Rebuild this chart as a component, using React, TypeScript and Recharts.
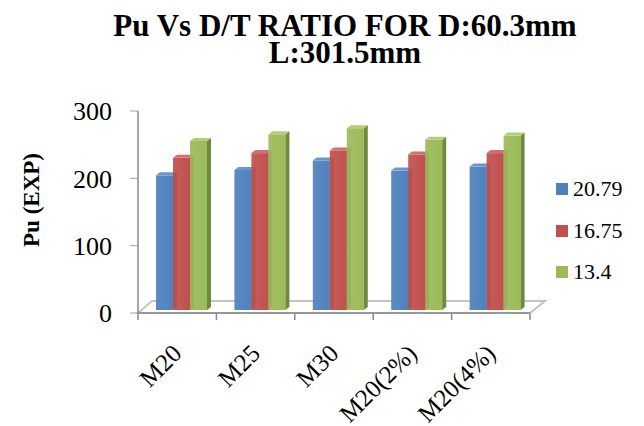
import { BarChart, Bar, XAxis, YAxis } from 'recharts';

const categories = ['M20', 'M25', 'M30', 'M20(2%)', 'M20(4%)'];
const seriesNames = ['20.79', '16.75', '13.4'];
const puDt2079 = [200, 208, 222, 207, 213];
const puDt1675 = [226, 233, 237, 231, 233];
const puDt134 = [251, 261, 270, 253, 259];
const yTicks = [0, 100, 200, 300];

const data = categories.map((name, i) => ({
  name,
  s0: puDt2079[i],
  s1: puDt1675[i],
  s2: puDt134[i],
}));

// front / side / top colours for the 3D columns
const palette = [
  { front: '#4F81BD', side: '#385D8A', top: '#6A96CC' },
  { front: '#C0504D', side: '#8C3836', top: '#D2706D' },
  { front: '#9BBB59', side: '#71893F', top: '#B2CF78' },
];

const W = 644;
const H = 426;
const PLOT_LEFT = 138;
const PLOT_RIGHT = 530;
const PLOT_TOP = 111;
const PLOT_BOTTOM = 313;
const X_AXIS_H = 60;
const DEPTH_X = 4;
const DEPTH_Y = 3;
const SERIF = '"Liberation Serif", "Times New Roman", serif';

const makeColumn = (idx: number) => (props: any) => {
  const { x, y, width, height } = props;
  if (height == null || height <= 0) return null;
  const c = palette[idx];
  // columns sit slightly back on the floor
  const fx = x + 4;
  const fy = y - 3;
  const r = fx + width;
  const b = fy + height;
  return (
    <g>
      <rect x={fx} y={fy} width={width} height={height} fill={`url(#grad${idx})`} />
      <polygon
        points={`${r},${fy} ${r + DEPTH_X},${fy - DEPTH_Y} ${r + DEPTH_X},${b - DEPTH_Y} ${r},${b}`}
        fill={c.side}
      />
      <polygon
        points={`${fx},${fy} ${fx + DEPTH_X},${fy - DEPTH_Y} ${r + DEPTH_X},${fy - DEPTH_Y} ${r},${fy}`}
        fill={c.top}
      />
    </g>
  );
};

const CategoryTick = (props: any) => {
  const { x, y, payload } = props;
  const ax = x + 6;
  const ay = y + 42;
  return (
    <text
      x={ax}
      y={ay}
      transform={`rotate(-45 ${ax} ${ay})`}
      textAnchor="end"
      fontFamily={SERIF}
      fontSize={25}
      fill="#000"
    >
      {payload.value}
    </text>
  );
};

const LegendBox = () => (
  <div
    style={{
      position: 'absolute',
      left: 556,
      top: 168,
      fontFamily: SERIF,
      fontSize: 22,
      color: '#000',
    }}
  >
    {seriesNames.map((n, i) => (
      <div key={n} style={{ display: 'flex', alignItems: 'center', height: 41.7 }}>
        <span
          style={{
            display: 'inline-block',
            width: 12,
            height: 12,
            background: palette[i].front,
            marginRight: 5,
          }}
        />
        <span>{n}</span>
      </div>
    ))}
  </div>
);

// floor, boundary ticks, title and axis title drawn behind the chart
const Backdrop = () => {
  const step = (PLOT_RIGHT - PLOT_LEFT) / categories.length;
  const bounds = Array.from({ length: categories.length + 1 }, (_, i) => PLOT_LEFT + i * step);
  const backY = PLOT_BOTTOM - 12;
  return (
    <svg width={W} height={H} style={{ position: 'absolute', left: 0, top: 0 }}>
      <polygon
        points={`${PLOT_LEFT},${PLOT_BOTTOM} ${PLOT_LEFT + 14},${backY} ${PLOT_RIGHT + 15},${backY} ${PLOT_RIGHT},${PLOT_BOTTOM}`}
        fill="#fff"
        stroke="#c4c4c4"
        strokeWidth={2}
      />
      {bounds.map((bx) => (
        <line key={bx} x1={bx} y1={PLOT_BOTTOM} x2={bx} y2={PLOT_BOTTOM + 7} stroke="#8a8a8a" strokeWidth={1.5} />
      ))}
      <text x={345} y={36} textAnchor="middle" fontFamily={SERIF} fontWeight="bold" fontSize={31}>
        <tspan x={345} y={36}>Pu Vs D/T RATIO FOR D:60.3mm</tspan>
        <tspan x={345} y={63}>L:301.5mm</tspan>
      </text>
      <text
        x={39}
        y={200}
        transform="rotate(-90 39 200)"
        textAnchor="middle"
        fontFamily={SERIF}
        fontWeight="bold"
        fontSize={23}
      >
        Pu (EXP)
      </text>
    </svg>
  );
};

export default function App() {
  return (
    <div style={{ position: 'fixed', left: 0, top: 0, width: W, height: H, background: '#fff' }}>
      <Backdrop />
      <div style={{ position: 'absolute', left: 0, top: 0 }}>
        <BarChart
          width={W}
          height={H}
          data={data}
          barGap={0}
          barSize={17}
          margin={{ top: PLOT_TOP, right: W - PLOT_RIGHT, left: 0, bottom: H - PLOT_BOTTOM - X_AXIS_H }}
        >
          <defs>
            {palette.map((c, i) => (
              <linearGradient key={i} id={`grad${i}`} x1="0" y1="0" x2="1" y2="0">
                <stop offset="0%" stopColor={c.front} stopOpacity={0.92} />
                <stop offset="100%" stopColor={c.front} />
              </linearGradient>
            ))}
          </defs>
          <XAxis
            dataKey="name"
            height={X_AXIS_H}
            tickLine={false}
            tickSize={0}
            tickMargin={0}
            axisLine={{ stroke: '#8a8a8a', strokeWidth: 1.5 }}
            tick={<CategoryTick />}
            interval={0}
          />
          <YAxis
            width={PLOT_LEFT}
            domain={[0, 300]}
            ticks={yTicks}
            tickSize={8}
            tickMargin={18}
            axisLine={{ stroke: '#8a8a8a', strokeWidth: 1.5 }}
            tickLine={{ stroke: '#a0a0a0' }}
            tick={{ fill: '#000', fontSize: 26, fontFamily: SERIF }}
          />
          <Bar dataKey="s0" name={seriesNames[0]} fill={palette[0].front} shape={makeColumn(0)} isAnimationActive={false} />
          <Bar dataKey="s1" name={seriesNames[1]} fill={palette[1].front} shape={makeColumn(1)} isAnimationActive={false} />
          <Bar dataKey="s2" name={seriesNames[2]} fill={palette[2].front} shape={makeColumn(2)} isAnimationActive={false} />
        </BarChart>
      </div>
      <LegendBox />
    </div>
  );
}
